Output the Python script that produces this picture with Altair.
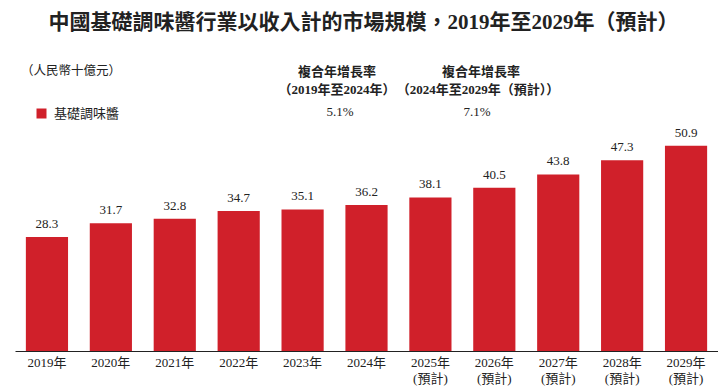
import altair as alt
import pandas as pd

TITLE = "中國基礎調味醬行業以收入計的市場規模，2019年至2029年（預計）"
UNIT = "（人民幣十億元）"
SERIES = "基礎調味醬"
YEARS = ["2019", "2020", "2021", "2022", "2023", "2024",
         "2025", "2026", "2027", "2028", "2029"]
FORECAST = [False, False, False, False, False, False, True, True, True, True, True]
VALUES = [28.3, 31.7, 32.8, 34.7, 35.1, 36.2, 38.1, 40.5, 43.8, 47.3, 50.9]
FORECAST_NOTE = "(預計)"
CAGR_HEADER = "複合年增長率"
CAGR_PERIODS = ["（2019年至2024年）", "（2024年至2029年（預計））"]
CAGR_VALUES = ["5.1%", "7.1%"]

SERIF = "Liberation Serif, Noto Sans CJK TC"
RED = "#d0202a"
INK = "#222222"

labels = [f"{y}年" + (f"|{FORECAST_NOTE}" if f else "") for y, f in zip(YEARS, FORECAST)]
df = pd.DataFrame({"label": labels, "value": VALUES, "series": [SERIES] * len(VALUES)})

x = alt.X("label:N", sort=labels,
          scale=alt.Scale(paddingInner=0.34, paddingOuter=0.17),
          axis=alt.Axis(title=None, labelExpr="split(datum.value, '|')", labelAngle=0,
                        ticks=False, domainColor=INK, domainWidth=1, labelFont=SERIF,
                        labelFontSize=13, labelColor=INK, labelPadding=5,
                        labelLineHeight=16))
y = alt.Y("value:Q", scale=alt.Scale(domain=[0, 75.9], nice=False), axis=None)

base = alt.Chart(df)
bars = base.mark_bar().encode(
    x=x, y=y,
    color=alt.Color("series:N", scale=alt.Scale(domain=[SERIES], range=[RED]),
                    legend=alt.Legend(title=None, orient="none", legendX=20, legendY=62,
                                      symbolType="square", symbolSize=100,
                                      symbolStrokeWidth=0, labelFont=SERIF,
                                      labelFontSize=13, labelColor=INK, labelOffset=6)))
vals = base.mark_text(dy=-13, font=SERIF, fontSize=13, color=INK).encode(
    x=x, y=y, text=alt.Text("value:Q", format=".1f"))


def note(text, px, py, align="center", size=13, weight="normal"):
    return alt.Chart(alt.InlineData(values=[{"t": text}])).mark_text(
        align=align, baseline="middle", font=SERIF, fontSize=size,
        fontWeight=weight, color=INK).encode(
        x=alt.value(px), y=alt.value(py), text="t:N")


notes = [
    note(UNIT, 6, 26, align="left", size=12.5),
    note(CAGR_HEADER, 322, 27, weight="bold"),
    note(CAGR_PERIODS[0], 322, 45, weight="bold"),
    note(CAGR_VALUES[0], 325, 67),
    note(CAGR_HEADER, 466, 27, weight="bold"),
    note(CAGR_PERIODS[1], 463, 45, weight="bold"),
    note(CAGR_VALUES[1], 462, 67),
]

chart = alt.layer(bars, vals, *notes).properties(
    width=703, height=306,
    title=alt.TitleParams(TITLE, font=SERIF, fontSize=21, fontWeight="bold", color=INK,
                          anchor="middle", frame="group", offset=12, dx=-3),
    autosize=alt.AutoSizeParams(type="none"),
    padding={"left": 7, "top": 37, "right": 0, "bottom": 39},
    background="white",
).configure_view(stroke=None)

chart.save("out.html", embed_options={"renderer": "svg", "actions": False})
